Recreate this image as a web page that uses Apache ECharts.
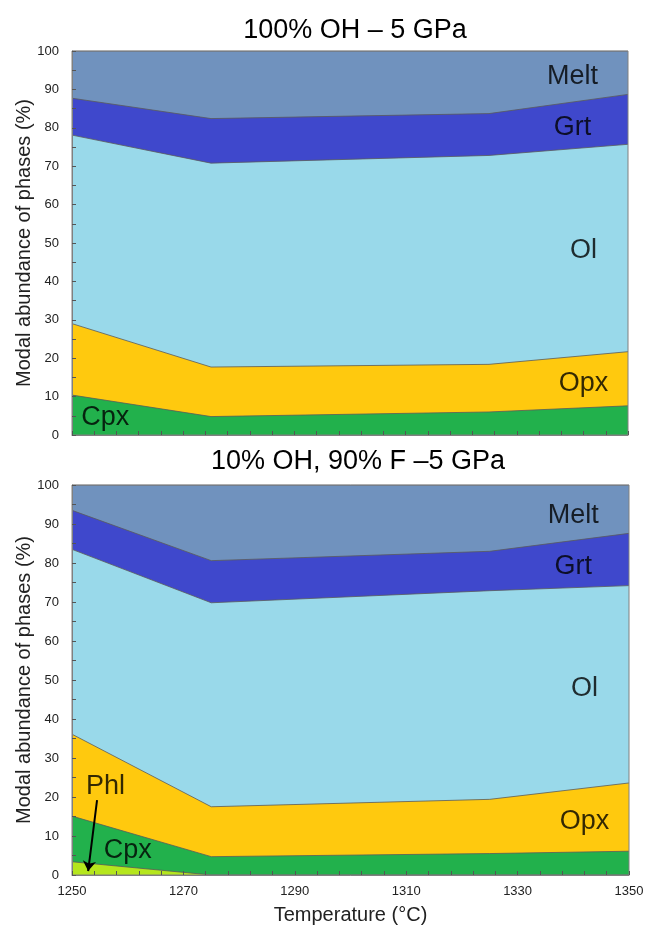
<!DOCTYPE html>
<html>
<head>
<meta charset="utf-8">
<script src="https://cdn.jsdelivr.net/npm/echarts@6/dist/echarts.min.js"></script>
<style>
  html, body { margin: 0; padding: 0; background: #fff; }
  #chart { width: 647px; height: 926px; }
</style>
</head>
<body>
<div id="chart"></div>
<script>
// Temperatures of the runs (°C)
const temps = [1250, 1275, 1325, 1350];
const xTicks = [1250, 1270, 1290, 1310, 1330, 1350];

// Phase proportions (%), listed bottom to top — 100% OH, 5 GPa
const ohCpx  = [10.4, 4.8, 6.0, 7.6];
const ohOpx  = [18.6, 12.9, 12.4, 14.1];
const ohOl   = [49.1, 53.1, 54.4, 54.0];
const ohGrt  = [9.6, 11.6, 10.9, 13.0];
const ohMelt = [12.3, 17.6, 16.3, 11.3];

// Phase proportions (%) — 10% OH, 90% F, 5 GPa
const fPhl  = [3.4, 0, 0, 0];
const fCpx  = [11.7, 4.7, 5.5, 6.1];
const fOpx  = [21.0, 12.8, 13.9, 17.5];
const fOl   = [47.4, 52.3, 53.5, 50.6];
const fGrt  = [10.0, 10.8, 10.1, 13.4];
const fMelt = [6.5, 19.4, 17.0, 12.4];

const FONT = '"Liberation Sans", Arial, sans-serif';
const COLORS = {
  Phl: '#B5E61D', Cpx: '#22B14C', Opx: '#FFC90E',
  Ol: '#99D9EA', Grt: '#3F48CC', Melt: '#7092BE'
};

// Build cumulative (stacked) bands; each band is filled down to zero and
// drawn from the top phase downwards so lower phases overlay upper ones.
function stackedBands(layers, idx) {
  const tops = [];
  let running = temps.map(() => 0);
  layers.forEach(([name, values]) => {
    running = running.map((v, i) => v + values[i]);
    tops.push([name, running.slice()]);
  });
  return tops.reverse().map(([name, cum], k) => ({
    name: name + idx,
    type: 'line',
    xAxisIndex: idx, yAxisIndex: idx,
    symbol: 'none',
    z: 2 + k,
    data: temps.map((t, i) => [t, cum[i]]),
    lineStyle: { color: '#5a5a5a', width: 0.8 },
    areaStyle: { color: COLORS[name], opacity: 1, origin: 'start' },
    emphasis: { disabled: true },
    silent: true
  }));
}

// Phase names placed in the field of each phase (data coordinates)
function phaseLabels(items, idx) {
  return {
    type: 'scatter',
    xAxisIndex: idx, yAxisIndex: idx,
    symbolSize: 0,
    silent: true,
    z: 20,
    data: items.map(it => ({ name: it[0], value: [it[1], it[2]] })),
    label: {
      show: true, position: 'inside', formatter: '{b}',
      color: '#000', textBorderWidth: 0, fontSize: 27, fontFamily: FONT
    }
  };
}

function xAxis(idx, withLabels) {
  return {
    type: 'value', gridIndex: idx,
    min: xTicks[0], max: xTicks[xTicks.length - 1], interval: 20,
    z: 30,
    axisLine: { show: true, lineStyle: { color: '#808080' } },
    axisTick: { show: true, inside: true, length: 4, lineStyle: { color: '#555' } },
    minorTick: { show: true, splitNumber: 5, length: 4, lineStyle: { color: '#555' } },
    splitLine: { show: false },
    axisLabel: {
      show: withLabels, margin: 10, color: '#222', fontSize: 13, fontFamily: FONT,
      formatter: v => String(v)
    },
    name: withLabels ? 'Temperature (°C)' : '',
    nameLocation: 'middle', nameGap: 30,
    nameMoveOverlap: false,
    nameTextStyle: { color: '#222', fontSize: 20, fontFamily: FONT }
  };
}

function yAxis(idx) {
  return {
    type: 'value', gridIndex: idx,
    min: 0, max: 100, interval: 10,
    z: 30,
    axisLine: { show: true, lineStyle: { color: '#808080' } },
    axisTick: { show: true, inside: true, length: 4, lineStyle: { color: '#555' } },
    minorTick: { show: true, splitNumber: 2, length: 4, lineStyle: { color: '#555' } },
    splitLine: { show: false },
    axisLabel: { margin: 13, color: '#222', fontSize: 13, fontFamily: FONT },
    name: 'Modal abundance of phases (%)',
    nameLocation: 'middle', nameGap: 38,
    nameMoveOverlap: false,
    nameTextStyle: { color: '#222', fontSize: 20, fontFamily: FONT }
  };
}

const chart = echarts.init(document.getElementById('chart'), null, { renderer: 'canvas' });

chart.setOption({
  animation: false,
  backgroundColor: '#fff',
  title: [
    { text: '100% OH – 5 GPa', left: 350, top: 12, textAlign: 'center',
      textStyle: { fontSize: 27, fontWeight: 'normal', color: '#000', fontFamily: FONT } },
    { text: '10% OH, 90% F –5 GPa', left: 353, top: 443, textAlign: 'center',
      textStyle: { fontSize: 27, fontWeight: 'normal', color: '#000', fontFamily: FONT } }
  ],
  grid: [
    { left: 72, top: 51, width: 556, height: 384, show: true, borderColor: '#808080', borderWidth: 1, backgroundColor: 'transparent', z: 25 },
    { left: 72, top: 485, width: 557, height: 392, show: true, borderColor: '#808080', borderWidth: 1, backgroundColor: 'transparent', z: 25 }
  ],
  xAxis: [xAxis(0, false), xAxis(1, true)],
  yAxis: [yAxis(0), yAxis(1)],
  series: [
    ...stackedBands([
      ['Cpx', ohCpx], ['Opx', ohOpx], ['Ol', ohOl], ['Grt', ohGrt], ['Melt', ohMelt]
    ], 0),
    ...stackedBands([
      ['Phl', fPhl], ['Cpx', fCpx], ['Opx', fOpx], ['Ol', fOl], ['Grt', fGrt], ['Melt', fMelt]
    ], 1),
    phaseLabels([
      ['Melt', 1340, 93.3], ['Grt', 1340, 80.0], ['Ol', 1342, 48.0],
      ['Opx', 1342, 13.3], ['Cpx', 1256, 4.5]
    ], 0),
    phaseLabels([
      ['Melt', 1340, 92.1], ['Grt', 1340, 79.0], ['Ol', 1342, 47.8],
      ['Opx', 1342, 13.8], ['Cpx', 1260, 6.2], ['Phl', 1256, 22.8]
    ], 1),
    // Pointer from the Phl label to its thin band
    {
      type: 'lines',
      coordinateSystem: 'cartesian2d',
      xAxisIndex: 1, yAxisIndex: 1,
      silent: true,
      z: 22,
      symbol: ['none', 'arrow'],
      symbolSize: 10,
      lineStyle: { color: '#000', width: 2, opacity: 1 },
      data: [{ coords: [[1254.5, 19.2], [1252.9, 1.0]] }]
    }
  ]
});
</script>
</body>
</html>
